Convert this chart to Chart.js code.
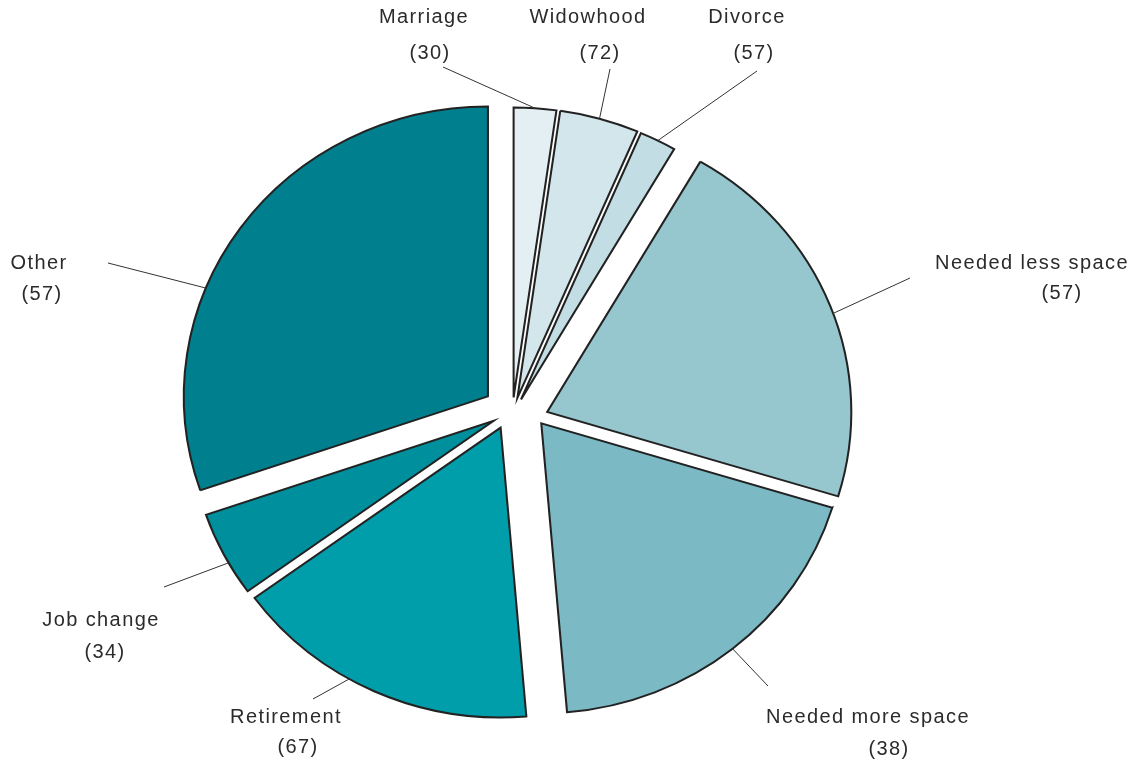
<!DOCTYPE html>
<html>
<head>
<meta charset="utf-8">
<script src="https://cdn.jsdelivr.net/npm/chart.js@4.4.1/dist/chart.umd.min.js"></script>
<style>
  html, body { margin: 0; padding: 0; background: #fff; }
</style>
</head>
<body>
<canvas id="theChart" width="1135" height="762"></canvas>
<script>
const reasons = ["Marriage", "Widowhood", "Divorce", "Needed less space", "Needed more space", "Retirement", "Job change", "Other"];
const counts = [30, 72, 57, 57, 38, 67, 34, 57];
const shares = [2.25, 4.2, 1.95, 21.3, 18.95, 16.35, 4.75, 30.25]; // slice sizes, % of circle

const sliceColors = ["#e3eff2", "#d2e6eb", "#c2dde3", "#96c6ce", "#7bbac4", "#009dab", "#008f9c", "#00808e"];
// how far each slice is pulled out (px) and in which direction (deg, clockwise from 12 o'clock)
const explodeDist = [13, 12.7, 12.3, 31.5, 29.1, 22.9, 23.6, 29.9];
const explodeDir = [354, 10.6, 28.6, 93.7, 118.1, 217.9, 241.9, 297.9];
const stretchX = 1.024; // the original pie is a little wider than tall
const stretchY = 0.976;

// label layout
const nameAt = [[424, 17], [588, 17], [747, 17], [1032, 263], [868, 717], [286, 717], [101, 620], [39, 263]];
const countAt = [[430, 53], [600, 53], [754, 53], [1062, 293], [889, 749], [298, 747], [105, 652], [42, 294]];
const leaderEnd = [[443, 67], [610, 69], [757, 71], [910, 278], [768, 686], [313, 699], [164, 587], [108, 263]];
const leaderFrac = [0.5, 0.5, 0.5, 0.52, 0.5, 0.59, 0.39, 0.375];

function centerOf(chart) {
  let area = chart.chartArea;
  return { cx: (area.left + area.right) / 2, cy: (area.top + area.bottom) / 2 };
}

const explodePlugin = {
  id: "explode",
  afterDatasetUpdate(chart, args) {
    let { cx, cy } = centerOf(chart);
    args.meta.data.forEach((arc, i) => {
      let dir = explodeDir[i] * Math.PI / 180;
      arc.x = cx + Math.sin(dir) * explodeDist[i];
      arc.y = cy - Math.cos(dir) * explodeDist[i];
    });
  },
  beforeDatasetsDraw(chart) {
    let ctx = chart.ctx;
    let { cx, cy } = centerOf(chart);
    ctx.save();
    ctx.translate(cx, cy);
    ctx.scale(stretchX, stretchY);
    ctx.translate(-cx, -cy);
  },
  afterDatasetsDraw(chart) {
    chart.ctx.restore();
  }
};

const labelPlugin = {
  id: "sliceLabels",
  afterDraw(chart) {
    let ctx = chart.ctx;
    let { cx, cy } = centerOf(chart);
    let arcs = chart.getDatasetMeta(0).data;
    ctx.save();
    ctx.strokeStyle = "#333";
    ctx.lineWidth = 1;
    arcs.forEach((arc, i) => {
      let a = arc.startAngle + leaderFrac[i] * (arc.endAngle - arc.startAngle);
      let r = arc.outerRadius;
      let px = cx + stretchX * (arc.x - cx + Math.cos(a) * r);
      let py = cy + stretchY * (arc.y - cy + Math.sin(a) * r);
      ctx.beginPath();
      ctx.moveTo(px, py);
      ctx.lineTo(leaderEnd[i][0], leaderEnd[i][1]);
      ctx.stroke();
    });
    ctx.font = "20px 'Liberation Sans', Arial, sans-serif";
    ctx.letterSpacing = "1.4px";
    ctx.fillStyle = "#2b2b2b";
    ctx.textAlign = "center";
    ctx.textBaseline = "middle";
    reasons.forEach((name, i) => {
      ctx.fillText(name, nameAt[i][0], nameAt[i][1]);
      ctx.fillText("(" + counts[i] + ")", countAt[i][0], countAt[i][1]);
    });
    ctx.restore();
  }
};

let chart = document.getElementById("theChart").getContext("2d");

let currentChart = new Chart(chart, {
  type: "pie",
  data: {
    labels: reasons,
    datasets: [
      {
        data: shares,
        backgroundColor: sliceColors,
        borderColor: "#222",
        borderWidth: 2,
        borderJoinStyle: "miter",
        clip: false,
      },
    ],
  },
  options: {
    responsive: false,
    animation: false,
    devicePixelRatio: 1,
    radius: 297,
    layout: {
      padding: { left: 0, right: 105, top: 58, bottom: 0 }
    },
    plugins: {
      legend: { display: false },
      tooltip: { enabled: false }
    }
  },
  plugins: [explodePlugin, labelPlugin]
});
</script>
</body>
</html>
